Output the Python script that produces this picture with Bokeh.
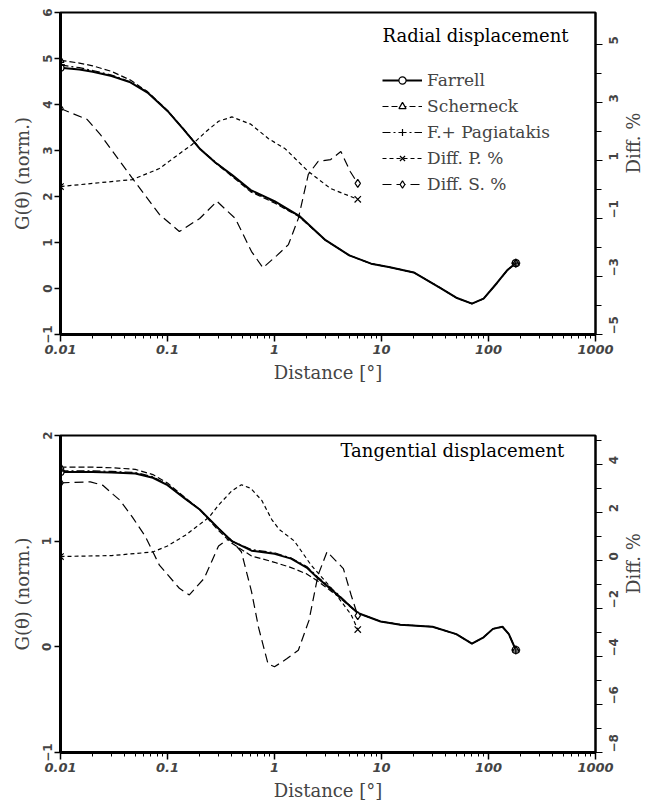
import math
from bokeh.plotting import figure
from bokeh.models import (Range1d, LinearAxis, FixedTicker, Legend, LegendItem,
                          Label, CustomJSTickFormatter)
from bokeh.layouts import column
from bokeh.embed import file_html
from bokeh.resources import INLINE

# ---------------- data ----------------
x_ticks = [0.01, 0.1, 1, 10, 100, 1000]

# Radial displacement
rad_dist = [0.01, 0.015, 0.02, 0.03, 0.045, 0.065, 0.1, 0.14, 0.2, 0.28, 0.4, 0.6,
            1.0, 1.7, 3.0, 5.0, 8.0, 12, 20, 35, 50, 70, 90, 120, 150, 180]
rad_farrell = [4.80, 4.76, 4.71, 4.62, 4.48, 4.26, 3.86, 3.47, 3.04, 2.74, 2.47, 2.14,
               1.90, 1.58, 1.05, 0.72, 0.54, 0.46, 0.35, 0.02, -0.20, -0.33, -0.22, 0.12, 0.40, 0.55]
rad_scherneck = [4.96, 4.90, 4.84, 4.72, 4.53, 4.28, 3.87, 3.48, 3.05, 2.73, 2.44, 2.10,
                 1.86, 1.56, 1.05, 0.72, 0.54, 0.46, 0.35, 0.02, -0.20, -0.33, -0.22, 0.12, 0.40, 0.55]
rad_pagiatakis = [4.86, 4.80, 4.74, 4.64, 4.49, 4.27, 3.86, 3.47, 3.04, 2.75, 2.46, 2.12,
                  1.88, 1.57, 1.05, 0.72, 0.54, 0.46, 0.35, 0.02, -0.20, -0.33, -0.22, 0.12, 0.40, 0.55]
rad_dp_dist = [0.01, 0.02, 0.047, 0.084, 0.138, 0.17, 0.23, 0.3, 0.4, 0.6, 0.88, 1.26, 2.07, 3.35, 6.0]
rad_diff_p = [0.10, 0.21, 0.34, 0.72, 1.31, 1.55, 2.0, 2.35, 2.50, 2.25, 1.75, 1.40, 0.62, 0.03, -0.34]
rad_ds_dist = [0.01, 0.0178, 0.0235, 0.047, 0.084, 0.129, 0.2, 0.29, 0.43, 0.61, 0.78, 1.05,
               1.35, 1.67, 2.07, 2.56, 3.35, 4.17, 5.1, 6.0]
rad_diff_s = [2.79, 2.41, 1.9, 0.38, -0.86, -1.45, -1.0, -0.41, -1.0, -2.14, -2.70, -2.28,
              -1.9, -1.0, 0.52, 0.97, 1.03, 1.31, 0.62, 0.21]

# Tangential displacement
tan_dist = [0.01, 0.02, 0.03, 0.05, 0.073, 0.1, 0.147, 0.2, 0.245, 0.3, 0.4, 0.61, 1.0, 1.43,
            2.0, 2.55, 3.9, 6.0, 9.8, 15, 30, 50, 70, 90, 110, 135, 155, 180]
tan_farrell = [1.655, 1.655, 1.65, 1.64, 1.60, 1.53, 1.40, 1.30, 1.21, 1.12, 1.00, 0.91, 0.88, 0.835,
               0.75, 0.65, 0.49, 0.32, 0.24, 0.21, 0.19, 0.12, 0.03, 0.09, 0.17, 0.19, 0.12, -0.03]
tan_scherneck = [1.70, 1.70, 1.695, 1.68, 1.63, 1.55, 1.41, 1.30, 1.20, 1.10, 0.98, 0.86, 0.80, 0.75,
                 0.69, 0.62, 0.48, 0.32, 0.24, 0.21, 0.19, 0.12, 0.03, 0.09, 0.17, 0.19, 0.12, -0.03]
tan_pagiatakis = [1.665, 1.665, 1.66, 1.65, 1.61, 1.535, 1.40, 1.30, 1.21, 1.12, 1.00, 0.92, 0.89, 0.84,
                  0.76, 0.66, 0.50, 0.32, 0.24, 0.21, 0.19, 0.12, 0.03, 0.09, 0.17, 0.19, 0.12, -0.03]
tan_dp_dist = [0.01, 0.03, 0.073, 0.1, 0.147, 0.2, 0.245, 0.3, 0.4, 0.49, 0.6, 0.76, 0.94, 1.1,
               1.53, 2.2, 3.4, 5.2, 6.0]
tan_diff_p = [0.16, 0.2, 0.35, 0.6, 1.05, 1.5, 1.8, 2.3, 2.9, 3.15, 3.0, 2.5, 1.71, 1.3,
              0.81, -0.2, -1.16, -2.26, -2.88]
tan_ds_dist = [0.01, 0.019, 0.025, 0.031, 0.036, 0.047, 0.062, 0.084, 0.129, 0.16, 0.22, 0.30, 0.38,
               0.49, 0.61, 0.71, 0.87, 1.0, 1.3, 1.67, 2.1, 2.55, 3.1, 4.4, 5.2, 6.0]
tan_diff_s = [3.23, 3.27, 3.12, 2.75, 2.5, 1.8, 1.0, -0.2, -1.16, -1.44, -0.75, 0.6, 0.92,
              0.36, -1.3, -2.8, -4.31, -4.43, -4.1, -3.74, -2.5, -0.62, 0.36, -0.34, -1.44, -2.3]

SERIF = "DejaVu Serif"
SANS = "DejaVu Sans"
MINUS_FMT = "return tick < 0 ? '\u2212' + Math.abs(tick) : tick.toString();"


def ends(xs, ys):
    return [xs[0], xs[-1]], [ys[0], ys[-1]]


def panel(title, dist, far, sch, pag, dpd, dpv, dsd, dsv, yr, yticks, dr, dticks, dminor,
          height, borders, title_pos, with_legend):
    bl, br, bt, bb = borders
    p = figure(width=657, height=height, x_axis_type="log",
               x_range=Range1d(0.01, 1000), y_range=Range1d(*yr),
               output_backend="svg", toolbar_location=None,
               min_border_left=bl, min_border_right=br, min_border_top=bt, min_border_bottom=bb)
    p.xgrid.visible = False
    p.ygrid.visible = False
    p.outline_line_color = "black"
    p.outline_line_width = 2
    p.outline_line_alpha = 1

    # x axis
    xa = p.xaxis[0]
    xa.ticker = FixedTicker(ticks=x_ticks,
                            minor_ticks=[k * 10 ** e for e in range(-2, 3) for k in range(2, 10)])
    xa.formatter = CustomJSTickFormatter(code="return tick.toString();")
    xa.axis_label = "Distance [°]"
    xa.axis_label_text_font = SERIF
    xa.axis_label_text_font_size = "18px"
    xa.axis_label_text_font_style = "normal"
    xa.axis_label_standoff = 5
    xa.major_label_text_font = SANS
    xa.major_label_text_font_style = "bold italic"
    xa.major_label_text_font_size = "13px"
    xa.major_label_standoff = 3
    xa.axis_line_width = 3
    xa.major_tick_in = 0
    xa.major_tick_out = 7
    xa.minor_tick_in = 0
    xa.minor_tick_out = 4
    xa.major_tick_line_width = 1.5

    # left axis
    ya = p.yaxis[0]
    ya.ticker = FixedTicker(ticks=yticks)
    ya.formatter = CustomJSTickFormatter(code=MINUS_FMT)
    ya.axis_label = "G(θ) (norm.)"
    ya.axis_label_text_font = SERIF
    ya.axis_label_text_font_size = "18px"
    ya.axis_label_text_font_style = "normal"
    ya.axis_label_standoff = 7
    ya.major_label_orientation = "vertical"
    ya.major_label_text_font = SANS
    ya.major_label_text_font_style = "bold"
    ya.major_label_text_font_size = "12px"
    ya.major_label_standoff = 3
    ya.axis_line_width = 3
    ya.major_tick_in = 0
    ya.major_tick_out = 6
    ya.major_tick_line_width = 1.5

    # right axis
    p.extra_y_ranges = {"diff": Range1d(*dr)}
    ra = LinearAxis(y_range_name="diff",
                    ticker=FixedTicker(ticks=dticks, minor_ticks=dminor),
                    formatter=CustomJSTickFormatter(code=MINUS_FMT),
                    axis_label="Diff. %")
    ra.axis_label_text_font = SERIF
    ra.axis_label_text_font_size = "18px"
    ra.axis_label_text_font_style = "normal"
    ra.axis_label_standoff = 8
    if "axis_label_orientation" in ra.properties():
        ra.axis_label_orientation = math.pi / 2
    ra.major_label_orientation = math.pi / 2
    ra.major_label_text_font = SANS
    ra.major_label_text_font_style = "bold"
    ra.major_label_text_font_size = "12px"
    ra.major_label_standoff = 11
    ra.axis_line_width = 2
    ra.major_tick_in = 0
    ra.major_tick_out = 7
    ra.minor_tick_in = 0
    ra.minor_tick_out = 6
    p.add_layout(ra, "right")

    # series
    l_far = p.line(dist, far, line_color="black", line_width=2)
    mx, my = ends(dist, far)
    m_far = p.scatter(mx, my, marker="circle", size=7, fill_color="white", line_color="black", line_width=1.2)

    l_sch = p.line(dist, sch, line_color="black", line_width=1.2, line_dash="6 3")
    mx, my = ends(dist, sch)
    m_sch = p.scatter(mx, my, marker="triangle", size=7, fill_color="white", line_color="black", line_width=1.2)

    l_pag = p.line(dist, pag, line_color="black", line_width=1.2, line_dash="8 3 2 3")
    mx, my = ends(dist, pag)
    m_pag = p.scatter(mx, my, marker="cross", size=9, line_color="black", line_width=1.2)

    l_dp = p.line(dpd, dpv, line_color="black", line_width=1.2, line_dash="4 3", y_range_name="diff")
    mx, my = ends(dpd, dpv)
    m_dp = p.scatter(mx, my, marker="x", size=9, line_color="black", line_width=1.2, y_range_name="diff")

    l_ds = p.line(dsd, dsv, line_color="black", line_width=1.2, line_dash="9 5", y_range_name="diff")
    mx, my = ends(dsd, dsv)
    m_ds = p.scatter(mx, my, marker="diamond", size=8, fill_color="white", line_color="black",
                     line_width=1.2, y_range_name="diff")

    p.add_layout(Label(x=title_pos[0], y=title_pos[1], x_units="screen", y_units="screen",
                       text=title, text_font=SERIF, text_font_size="18px",
                       text_baseline="middle", text_color="black"))

    if with_legend:
        leg = Legend(items=[
            LegendItem(label="Farrell", renderers=[l_far, m_far]),
            LegendItem(label="Scherneck", renderers=[l_sch, m_sch]),
            LegendItem(label="F.+ Pagiatakis", renderers=[l_pag, m_pag]),
            LegendItem(label="Diff. P. %", renderers=[l_dp, m_dp]),
            LegendItem(label="Diff. S. %", renderers=[l_ds, m_ds]),
        ], location=(322, 140))
        leg.border_line_color = None
        leg.background_fill_alpha = 0
        leg.label_text_font = SERIF
        leg.label_text_font_size = "17px"
        leg.glyph_width = 40
        leg.glyph_height = 18
        leg.label_height = 18
        leg.spacing = 6
        leg.padding = 0
        leg.margin = 0
        leg.label_standoff = 5
        p.add_layout(leg)
    return p


p1 = panel("Radial displacement", rad_dist, rad_farrell, rad_scherneck, rad_pagiatakis,
           rad_dp_dist, rad_diff_p, rad_ds_dist, rad_diff_s,
           (-1, 6), [-1, 0, 1, 2, 3, 4, 5, 6], (-5, 6.1), [-5, -3, -1, 1, 3, 5], [-4, -2, 0, 2, 4],
           420, (60, 57, 12, 86), (322, 299), True)
p2 = panel("Tangential displacement", tan_dist, tan_farrell, tan_scherneck, tan_pagiatakis,
           tan_dp_dist, tan_diff_p, tan_ds_dist, tan_diff_s,
           (-1, 2), [-1, 0, 1, 2], (-8, 5.2), [-8, -6, -4, -2, 0, 2, 4], [-7, -5, -3, -1, 1, 3, 5],
           383, (57, 60, 15, 46), (280, 302), False)

layout = column(p1, p2, spacing=0)
open("out.html", "w").write(file_html(layout, INLINE))
